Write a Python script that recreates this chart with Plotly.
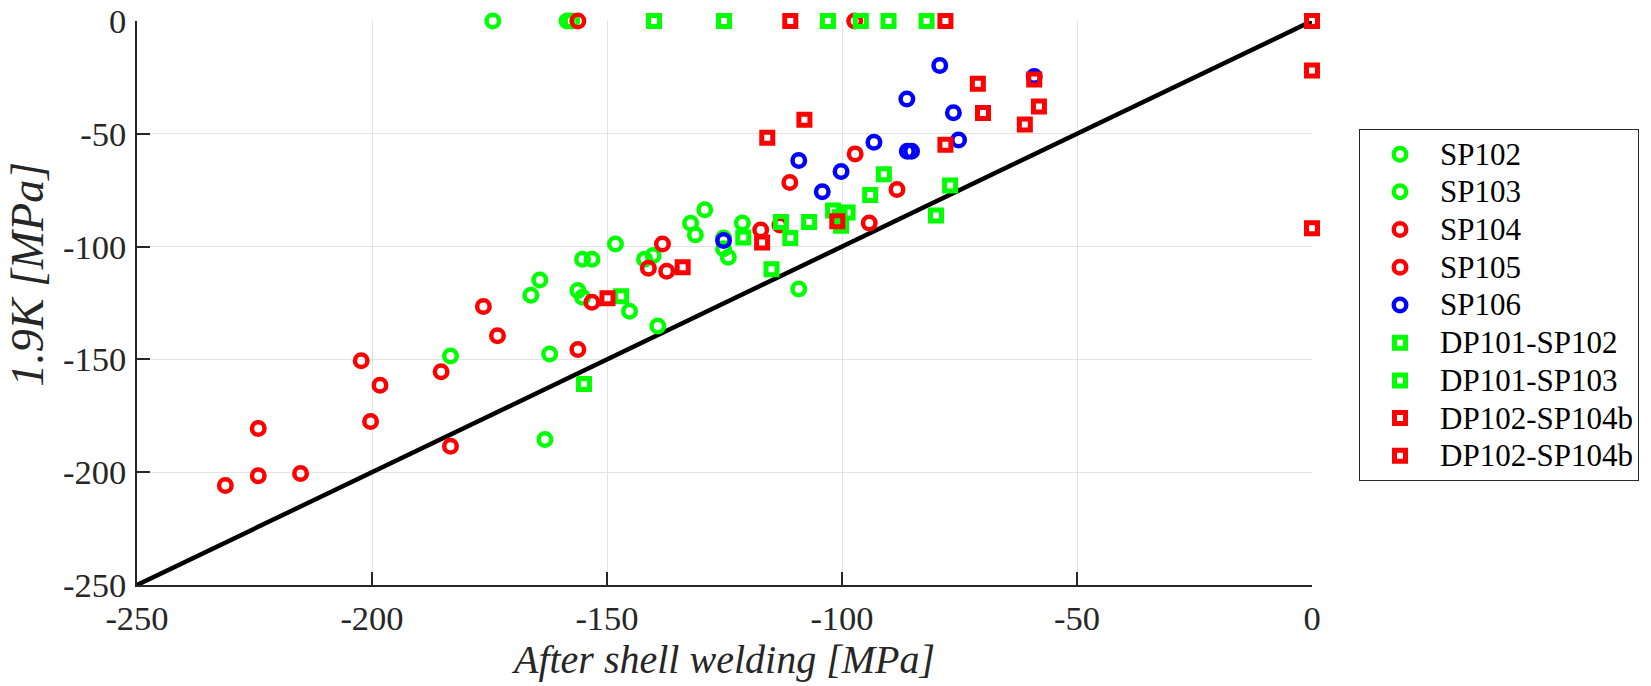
import plotly.graph_objects as go

# ---------------- data ----------------
sp102_x = [-174.3, -158.5, -129.2, -131.2, -125.2, -148.2, -155.2, -142.0, -164.3, -156.2, -145.2, -139.2, -183.3]
sp102_y = [0.0, 0.0, -83.7, -94.8, -96.2, -98.8, -105.6, -105.6, -114.8, -119.5, -128.7, -135.2, -148.5]

sp103_x = [-157.5, -132.2, -121.2, -125.2, -124.2, -153.2, -140.2, -166.2, -155.2, -109.2, -162.2, -163.2]
sp103_y = [0.0, -89.6, -89.5, -101.0, -104.7, -105.6, -104.0, -121.6, -122.5, -118.8, -147.6, -185.5]

sp104_x = [-156.2, -97.2, -111.1, -94.2, -113.2, -138.2, -141.2, -153.2, -176.3, -202.3, -198.3, -224.2]
sp104_y = [0.0, -58.9, -71.6, -89.5, -90.4, -98.8, -109.6, -124.7, -126.6, -150.6, -161.5, -180.6]

sp105_x = [-97.3, -88.3, -117.3, -137.3, -173.3, -156.2, -185.3, -200.3, -183.3, -224.2, -215.2, -231.2]
sp105_y = [0.0, -74.7, -92.6, -110.9, -139.5, -145.6, -155.5, -177.5, -188.5, -201.6, -200.6, -205.9]

sp106_x = [-79.2, -59.1, -86.2, -76.3, -75.2, -93.2, -86.1, -85.2, -109.2, -100.2, -104.2, -125.2]
sp106_y = [-19.7, -24.6, -34.6, -40.7, -52.7, -53.7, -57.7, -57.7, -61.8, -66.7, -75.7, -97.3]

dp101_sp102_x = [-140.0, -103.0, -90.1, -91.1, -94.0, -101.9, -100.2, -107.0, -111.0, -115.0, -154.9]
dp101_sp102_y = [0.0, 0.0, 0.0, -67.9, -77.1, -84.0, -90.8, -89.1, -96.2, -110.0, -160.9]

dp101_sp103_x = [-125.1, -96.0, -82.0, -77.0, -80.0, -98.8, -100.5, -113.0, -121.0, -147.0]
dp101_sp103_y = [0.0, 0.0, 0.0, -72.9, -86.2, -84.9, -87.0, -89.1, -96.0, -122.0]

dp102_sp104b_a_x = [-111.0, 0.0, 0.0, -71.1, -70.0, -61.1, -115.9, -101.0, -133.9]
dp102_sp104b_a_y = [0.0, 0.0, -91.9, -27.8, -40.8, -45.9, -51.8, -88.8, -109.2]

dp102_sp104b_b_x = [-78.0, 0.0, -59.1, -58.1, -108.0, -78.0, -117.0, -149.9]
dp102_sp104b_b_y = [0.0, -21.9, -25.9, -37.9, -43.8, -54.9, -98.2, -122.9]

ref_line_x = [-250, 0]
ref_line_y = [-250, 0]

tick_vals = [-250, -200, -150, -100, -50, 0]
tick_text = ["-250", "-200", "-150", "-100", "-50", "0"]

x_title = "After shell welding [MPa]"
y_title = "1.9K [MPa]"

# ---------------- styling ----------------
GREEN = "#00ff00"
RED = "#ff0000"
BLUE = "#0000ff"
AXC = "#262626"
FONT = "Liberation Serif"
LEG_SPAN = '<span style="font-size:31px">{}</span>'

fig = go.Figure()

fig.add_trace(go.Scatter(x=ref_line_x, y=ref_line_y, mode="lines",
                         line=dict(color="black", width=4.5), showlegend=False,
                         hoverinfo="skip"))

circle_series = [
    ("SP102", sp102_x, sp102_y, GREEN),
    ("SP103", sp103_x, sp103_y, GREEN),
    ("SP104", sp104_x, sp104_y, RED),
    ("SP105", sp105_x, sp105_y, RED),
    ("SP106", sp106_x, sp106_y, BLUE),
]
for name, xs, ys, col in circle_series:
    fig.add_trace(go.Scatter(
        x=xs, y=ys, mode="markers", name=LEG_SPAN.format(name),
        marker=dict(symbol="circle-open", size=12.5, color=col,
                    line=dict(color=col, width=4.5)),
        cliponaxis=False))

square_series = [
    ("DP101-SP102", dp101_sp102_x, dp101_sp102_y, GREEN),
    ("DP101-SP103", dp101_sp103_x, dp101_sp103_y, GREEN),
    ("DP102-SP104b", dp102_sp104b_a_x, dp102_sp104b_a_y, RED),
    ("DP102-SP104b", dp102_sp104b_b_x, dp102_sp104b_b_y, RED),
]
for name, xs, ys, col in square_series:
    fig.add_trace(go.Scatter(
        x=xs, y=ys, mode="markers", name=LEG_SPAN.format(name),
        marker=dict(symbol="square-open", size=11, color=col,
                    line=dict(color=col, width=5)),
        cliponaxis=False))

axis_common = dict(
    range=[-250, 0], tickmode="array", tickvals=tick_vals, ticktext=tick_text,
    showgrid=True, gridcolor="#e3e3e3", gridwidth=1,
    zeroline=False, showline=True, linecolor=AXC, linewidth=1.5,
    ticks="inside", ticklen=13, tickwidth=1.5, tickcolor=AXC,
    tickfont=dict(family=FONT, size=34.5, color=AXC),
    mirror=False, fixedrange=True, automargin=False,
)

fig.update_layout(
    width=1651, height=686,
    margin=dict(l=137, r=337, t=21, b=101, pad=0),
    paper_bgcolor="white", plot_bgcolor="white",
    font=dict(family=FONT, color=AXC),
    xaxis=dict(**axis_common, ticklabelstandoff=2,
               title=dict(text="<i>" + x_title + "</i>",
                          font=dict(family=FONT, size=40, color=AXC), standoff=3)),
    yaxis=dict(**axis_common, ticklabelstandoff=2),
    legend=dict(x=1.040, y=0.808, xanchor="left", yanchor="top",
                bgcolor="white", bordercolor=AXC, borderwidth=1,
                font=dict(family=FONT, size=26.7, color="black"),
                itemwidth=70, tracegroupgap=0, itemsizing="trace"),
    showlegend=True,
)

fig.add_annotation(
    text="<i>" + y_title + "</i>", textangle=-90,
    xref="paper", yref="paper", x=0, y=0.55,
    xanchor="center", yanchor="middle", xshift=-109, showarrow=False,
    borderpad=0,
    font=dict(family=FONT, size=46, color=AXC),
)

fig.write_html("out.html")
